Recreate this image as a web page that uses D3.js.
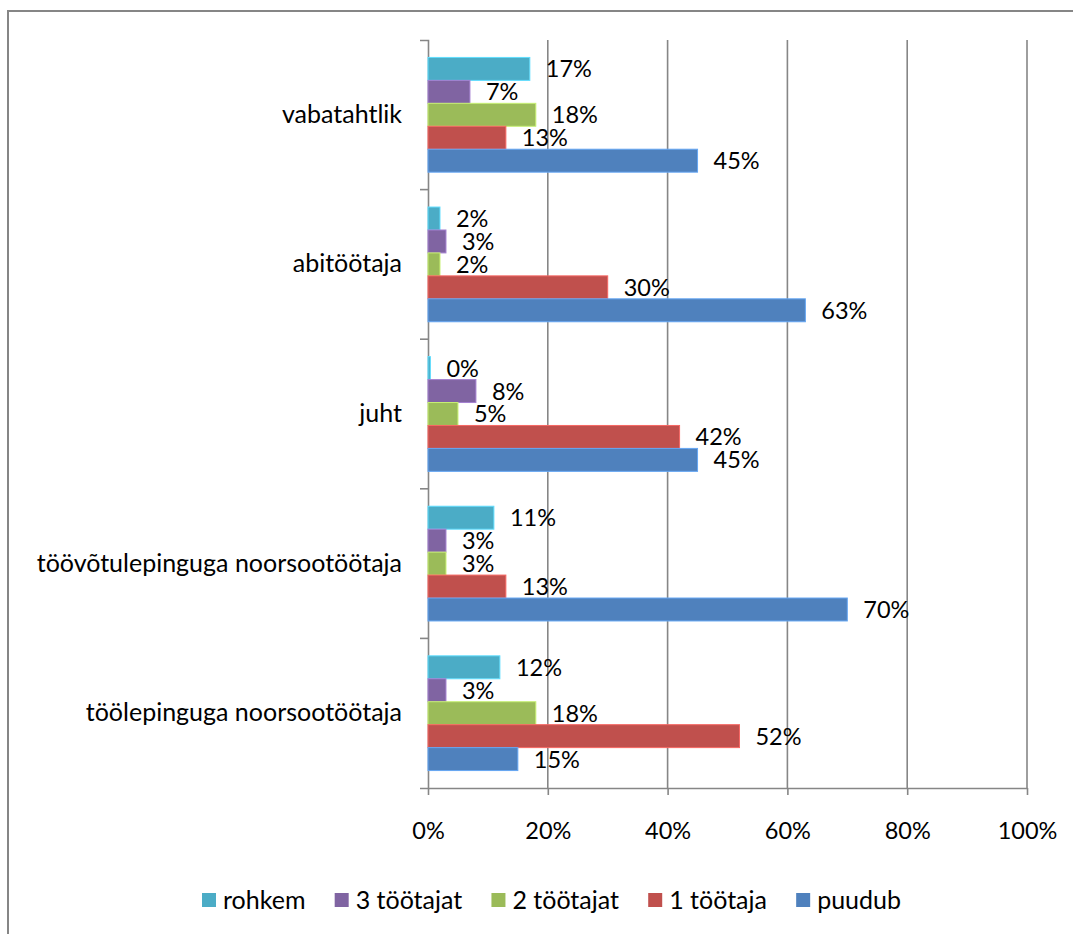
<!DOCTYPE html>
<html>
<head>
<meta charset="utf-8">
<script src="https://cdn.jsdelivr.net/npm/d3@7"></script>
<style>
  html, body { margin: 0; padding: 0; background: #fff; }
  svg { display: block; font-family: Lato, "Open Sans", sans-serif; }
</style>
</head>
<body>
<svg id="chart" width="1073" height="934"></svg>
<script>
// Categories, top to bottom
const categories = [
  "vabatahtlik",
  "abitöötaja",
  "juht",
  "töövõtulepinguga noorsootöötaja",
  "töölepinguga noorsootöötaja"
];

// Series, in drawing order inside each group (top to bottom)
const seriesNames = ["rohkem", "3 töötajat", "2 töötajat", "1 töötaja", "puudub"];
const seriesColors = ["#4BACC6", "#8064A2", "#9BBB59", "#C0504D", "#4F81BD"];

// Shares in percent, one value per category
const rohkem       = [17, 2, 0.4, 11, 12];
const kolmTootajat = [7, 3, 8, 3, 3];
const kaksTootajat = [18, 2, 5, 3, 18];
const ukstootaja   = [13, 30, 42, 13, 52];
const puudub       = [45, 63, 45, 70, 15];

const xTickValues = [0, 0.2, 0.4, 0.6, 0.8, 1.0];

const seriesValues = [rohkem, kolmTootajat, kaksTootajat, ukstootaja, puudub];

const FONT_NUM = 23.5;   // percentages
const FONT_TXT = 25;     // category names and legend
const FAMILY = "Lato, 'Open Sans', sans-serif";
const svg = d3.select("#chart");

// outer chart frame (only top and left edges fall inside the page)
svg.append("rect")
  .attr("x", 8).attr("y", 11)
  .attr("width", 1200).attr("height", 1100)
  .attr("fill", "none").attr("stroke", "#868686").attr("stroke-width", 2);

const x = d3.scaleLinear().domain([0, 1]).range([428, 1027]);
const y0 = d3.scaleBand().domain(categories).range([40, 788]);
const y1 = d3.scaleBand().domain(seriesNames).range([0, y0.bandwidth()]).paddingOuter(0.76);

// vertical gridlines
svg.append("g").selectAll("line")
  .data(xTickValues.slice(1))
  .join("line")
  .attr("x1", d => x(d)).attr("x2", d => x(d))
  .attr("y1", 40).attr("y2", 788)
  .attr("stroke", "#868686").attr("stroke-width", 1.6);

// x axis
const xAxis = svg.append("g")
  .attr("transform", "translate(0,788)")
  .call(d3.axisBottom(x).tickValues(xTickValues)
    .tickFormat(d3.format(".0%")).tickSize(7).tickSizeOuter(0).tickPadding(27));
xAxis.select(".domain").attr("stroke", "#868686").attr("stroke-width", 1.6);
xAxis.selectAll(".tick line").attr("stroke", "#868686").attr("stroke-width", 1.6);
xAxis.selectAll("text").attr("font-size", FONT_NUM).attr("fill", "#000")
  .attr("font-family", FAMILY);

// y axis with category labels
const yAxis = svg.append("g")
  .attr("transform", "translate(428,0)")
  .call(d3.axisLeft(y0).tickSize(0).tickSizeOuter(8).tickPadding(26));
yAxis.select(".domain").attr("stroke", "#868686").attr("stroke-width", 1.6);
yAxis.selectAll("text").attr("font-size", FONT_TXT).attr("fill", "#000")
  .attr("font-family", FAMILY);

// boundary ticks between category groups
svg.append("g").selectAll("line")
  .data(categories.slice(1))
  .join("line")
  .attr("x1", 420).attr("x2", 428)
  .attr("y1", d => y0(d)).attr("y2", d => y0(d))
  .attr("stroke", "#868686").attr("stroke-width", 1.6);

// bars and value labels
const rows = [];
categories.forEach((c, ci) => {
  seriesNames.forEach((s, si) => {
    rows.push({ cat: c, series: s, color: seriesColors[si], value: seriesValues[si][ci] / 100 });
  });
});

svg.append("g").selectAll("rect")
  .data(rows)
  .join("rect")
  .attr("x", x(0))
  .attr("y", d => y0(d.cat) + y1(d.series))
  .attr("width", d => x(d.value) - x(0))
  .attr("height", y1.bandwidth())
  .attr("fill", d => d.color)
  .attr("stroke", d => d3.color(d.color).brighter(0.7))
  .attr("stroke-width", 1);

svg.append("g").selectAll("text")
  .data(rows)
  .join("text")
  .attr("x", d => x(d.value) + 16)
  .attr("y", d => y0(d.cat) + y1(d.series) + y1.bandwidth() / 2)
  .attr("dy", "0.36em")
  .attr("font-size", FONT_NUM)
  .attr("fill", "#000")
  .text(d => Math.round(d.value * 100) + "%");

// legend
const legend = svg.append("g").attr("transform", "translate(0,900)");
const items = legend.selectAll("g")
  .data(seriesNames.map((s, i) => ({ name: s, color: seriesColors[i] })))
  .join("g");
items.append("rect")
  .attr("x", 0).attr("y", -7).attr("width", 14).attr("height", 14)
  .attr("fill", d => d.color);
items.append("text")
  .attr("x", 21).attr("dy", "0.36em")
  .attr("font-size", FONT_TXT).attr("fill", "#000")
  .text(d => d.name);

// spread legend entries evenly between the two outer edges
const legendLeft = 202, legendRight = 901;
const widths = [];
items.each(function () { widths.push(21 + this.querySelector("text").getComputedTextLength()); });
const gap = (legendRight - legendLeft - d3.sum(widths)) / (widths.length - 1);
let cx = legendLeft;
items.attr("transform", (d, i) => {
  const t = `translate(${cx},0)`;
  cx += widths[i] + gap;
  return t;
});
</script>
</body>
</html>
